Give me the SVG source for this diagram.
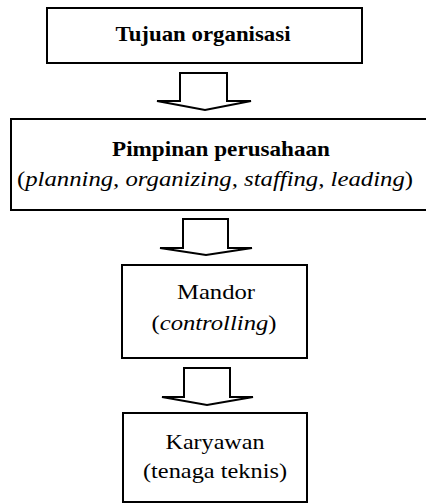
<svg xmlns="http://www.w3.org/2000/svg" width="426" height="504" viewBox="0 0 426 504">
<style>
.box{fill:#fff;stroke:#000;stroke-width:2}
.arrow{fill:#fff;stroke:#000;stroke-width:2;stroke-linejoin:miter}
.t{font-family:"Liberation Serif","Times New Roman",serif;font-size:22px;fill:#000;text-anchor:middle}
.b{font-weight:bold}
.i{font-style:italic}
</style>
<rect width="426" height="504" fill="#fff"/>
<g id="connectors">
<path class="arrow" d="M180,73 L227,73 L227,101 L251,101 L205,110 L157,101 L180,101 Z"/>
<path class="arrow" d="M183,219 L228,219 L228,248 L252,248 L206,255 L160,248 L183,248 Z"/>
<path class="arrow" d="M184,368 L230,368 L230,397 L253,397 L207,405 L162,397 L184,397 Z"/>
</g>
<g id="node-tujuan">
<rect class="box" x="47" y="8" width="315" height="55"/>
<text class="t b" x="203" y="41" textLength="175" lengthAdjust="spacingAndGlyphs">Tujuan organisasi</text>
</g>
<g id="node-pimpinan">
<rect class="box" x="11" y="119" width="416" height="91"/>
<text class="t b" x="221" y="156" textLength="218" lengthAdjust="spacingAndGlyphs">Pimpinan perusahaan</text>
<text class="t" x="215" y="186" textLength="396" lengthAdjust="spacingAndGlyphs">(<tspan class="i">planning, organizing, staffing, leading</tspan>)</text>
</g>
<g id="node-mandor">
<rect class="box" x="122" y="265" width="185" height="93"/>
<text class="t" x="216" y="299" textLength="78" lengthAdjust="spacingAndGlyphs">Mandor</text>
<text class="t" x="214" y="330" textLength="125" lengthAdjust="spacingAndGlyphs">(<tspan class="i">controlling</tspan>)</text>
</g>
<g id="node-karyawan">
<rect class="box" x="123" y="413" width="184" height="89"/>
<text class="t" x="215" y="449" textLength="99" lengthAdjust="spacingAndGlyphs">Karyawan</text>
<text class="t" x="215" y="478" textLength="144" lengthAdjust="spacingAndGlyphs">(tenaga teknis)</text>
</g>
</svg>
